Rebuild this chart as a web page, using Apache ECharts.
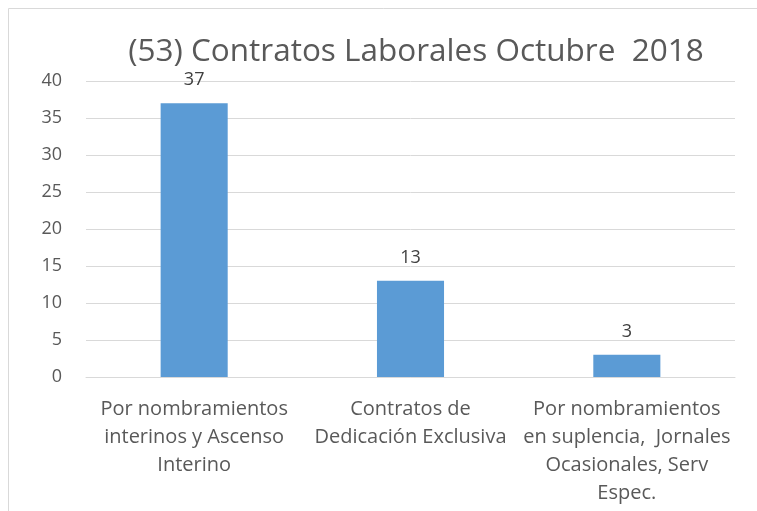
<!DOCTYPE html>
<html>
<head>
<meta charset="utf-8" />
<title>Contratos Laborales</title>
<style type="text/css">
html,body{margin:0;padding:0;background:#fff}
#chart{width:757px;height:511px}
</style>
<script src="https://cdn.jsdelivr.net/npm/echarts@6/dist/echarts.min.js"></script>
</head>
<body>
<div id="chart"></div>
<script type="text/javascript">
// datos del gráfico
var categorias = [
	'Por nombramientos\ninterinos y Ascenso\nInterino',
	'Contratos de\nDedicación Exclusiva',
	'Por nombramientos\nen suplencia,  Jornales\nOcasionales, Serv\nEspec.'
];
var valores = [37, 13, 3];
var titulo = '(53) Contratos Laborales Octubre  2018';

var fuente = 'Open Sans';
var chart = echarts.init(document.getElementById('chart'));
var option = {
	animation: false,
	title: {
		text: titulo,
		left: 411,
		top: 31,
		textAlign: 'center',
		textStyle: {
			fontFamily: fuente,
			fontSize: 31.5,
			fontWeight: 'normal',
			color: '#595959'
		}
	},
	graphic: [{
		type: 'rect',
		shape: {x: 8.5, y: 8.5, width: 900, height: 700},
		style: {fill: 'none', stroke: '#d9d9d9', lineWidth: 1},
		silent: true
	}],
	grid: {left: 86, right: 22, top: 81, bottom: 134},
	xAxis: {
		type: 'category',
		data: categorias,
		axisLine: {lineStyle: {color: '#d9d9d9'}},
		axisTick: {show: false},
		axisLabel: {
			interval: 0,
			margin: 18,
			fontFamily: fuente,
			fontSize: 20,
			lineHeight: 28,
			color: '#595959'
		}
	},
	yAxis: {
		type: 'value',
		min: 0,
		max: 40,
		interval: 5,
		axisLine: {show: false},
		axisTick: {show: false},
		splitLine: {lineStyle: {color: '#d9d9d9'}},
		axisLabel: {
			margin: 24,
			fontFamily: fuente,
			fontSize: 18,
			color: '#595959'
		}
	},
	series: [{
		type: 'bar',
		data: valores,
		barWidth: '31%',
		itemStyle: {color: '#5b9bd5'},
		label: {
			show: true,
			position: 'top',
			distance: 14,
			fontFamily: fuente,
			fontSize: 18,
			color: '#404040'
		}
	}]
};
chart.setOption(option);
</script>
</body>
</html>
